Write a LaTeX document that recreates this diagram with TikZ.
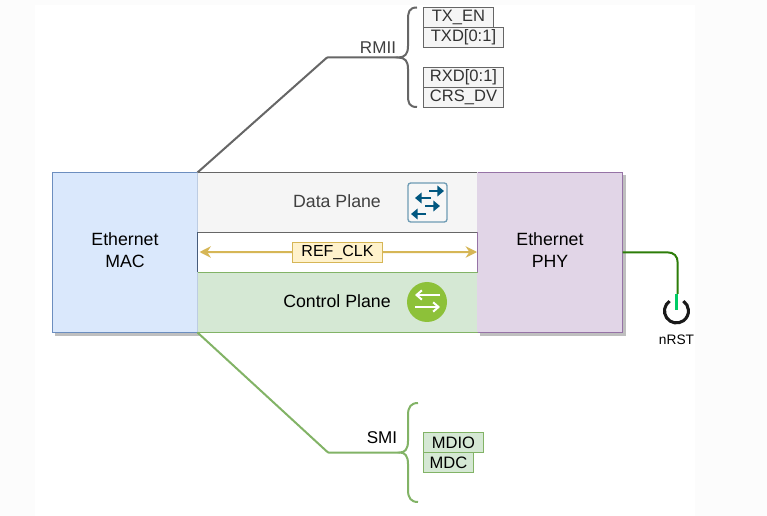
\documentclass[tikz,border=0pt]{standalone}
\usepackage{fontspec}
\setmainfont{Liberation Sans}
\definecolor{macFill}{RGB}{218,232,252}
\definecolor{macLine}{RGB}{108,142,191}
\definecolor{phyFill}{RGB}{225,213,231}
\definecolor{phyLine}{RGB}{150,115,166}
\definecolor{dataFill}{RGB}{245,245,245}
\definecolor{dataLine}{RGB}{102,102,102}
\definecolor{ctrlFill}{RGB}{213,232,212}
\definecolor{ctrlLine}{RGB}{130,179,102}
\definecolor{clkFill}{RGB}{255,242,204}
\definecolor{clkLine}{RGB}{214,182,86}
\definecolor{rstLine}{RGB}{45,125,9}
\definecolor{rstMark}{RGB}{0,204,102}
\definecolor{iconBlue}{RGB}{1,87,128}
\definecolor{iconEdge}{RGB}{110,155,180}
\definecolor{iconGreen}{RGB}{141,193,57}
\definecolor{pageOff}{RGB}{252,252,252}
\usetikzlibrary{arrows.meta,positioning,calc}

\begin{document}
\begin{tikzpicture}[
    x=0.75pt, y=-0.75pt,
    block/.style={rectangle, draw, line width=0.6pt, inner sep=0pt, outer sep=0pt, align=center,
                  font=\fontsize{13.3}{16.5}\selectfont},
    sigbox/.style={rectangle, draw, line width=0.6pt, inner sep=0pt, outer sep=0pt, minimum height=15pt,
                   font=\fontsize{12.4}{15}\selectfont},
    busline/.style={line width=1.5pt, rounded corners=0.5pt},
    brace/.style={line width=1.5pt}
  ]
  \useasboundingbox (0,0) rectangle (767,516);
  \fill[pageOff] (0,0) rectangle (767,516);
  \fill[white] (35,5) rectangle (695,516);

  % shadows of the two end blocks
  \fill[black!25] (54.5,175) rectangle (200,336);
  \fill[black!25] (479.5,175) rectangle (626,336);

  % end blocks
  \node[block, fill=macFill, draw=macLine, minimum width=108.75pt, minimum height=120pt,
        anchor=north west, text depth=0pt] (mac) at (52.5,172.5) {};
  \node[block, fill=phyFill, draw=phyLine, minimum width=108.75pt, minimum height=120pt,
        anchor=north west] (phy) at (477.5,172.5) {};
  \node[font=\fontsize{13.3}{16.5}\selectfont, align=center] (maclabel) at (125,250.5) {Ethernet\\MAC};
  \node[font=\fontsize{13.3}{16.5}\selectfont, align=center] (phylabel) at (550,250.5) {Ethernet\\PHY};

  % planes
  \node[block, fill=dataFill, draw=dataLine, minimum width=210pt, minimum height=45pt,
        anchor=north west] (dataplane) at (197.5,172.5) {};
  \node[block, fill=white, draw=dataLine, minimum width=210pt, minimum height=30pt,
        anchor=north west] (clkplane) at (197.5,232.5) {};
  \node[block, fill=ctrlFill, draw=ctrlLine, minimum width=210pt, minimum height=45pt,
        anchor=north west] (ctrlplane) at (197.5,272.5) {};
  \draw[line width=0.6pt, macLine!45!white] (dataplane.north west) -- (dataplane.south west);
  \draw[line width=0.6pt, macLine!45!white] (ctrlplane.north west) -- (ctrlplane.south west);
  \draw[line width=0.6pt, phyFill] (dataplane.north east) -- (dataplane.south east);
  \draw[line width=0.6pt, phyFill] (ctrlplane.north east) -- (ctrlplane.south east);
  \draw[line width=0.9pt, black!35!macLine] (clkplane.north west) -- (clkplane.south west);
  \draw[line width=0.6pt, phyLine] (clkplane.north east) -- (clkplane.south east);
  \draw[line width=0.6pt, ctrlLine] (clkplane.south west) -- (clkplane.south east);
  \draw[line width=0.6pt, phyLine] (phy.south west) -- (phy.south east);
  \node[font=\fontsize{13.3}{17}\selectfont, text=black!75] (datalabel) at (337,201) {Data Plane};
  \node[font=\fontsize{13.3}{17}\selectfont] (ctrllabel) at (337,301.5) {Control Plane};

  % clock
  \node[sigbox, fill=clkFill, draw=clkLine, minimum width=67.5pt, font=\fontsize{12}{15}\selectfont] (clk) at (337.5,252.3) {REF\_CLK};
  \coordinate (clkL) at (199.5,252);
  \coordinate (clkR) at (477,252);
  \draw[-{Stealth[length=8.5pt,width=8.5pt]}, line width=1.5pt, clkLine] (clk) -- (clkL);
  \draw[-{Stealth[length=8.5pt,width=8.5pt]}, line width=1.5pt, clkLine] (clk) -- (clkR);

  % RMII
  \coordinate (rmiiKnee) at (327,57.5);
  \coordinate (rmiiTip) at (398,57.5);
  \draw[busline, draw=dataLine] (197.5,172.5) -- (rmiiKnee) -- (rmiiTip);
  \draw[brace, draw=dataLine] (417,7.5) .. controls (409,7.5) and (408,12) .. (408,20)
    -- (408,46) .. controls (408,54) and (405,57.5) .. (rmiiTip)
    .. controls (405,57.5) and (408,61) .. (408,69)
    -- (408,95) .. controls (408,103) and (409,107) .. (417,107);
  \node[font=\fontsize{12.8}{15}\selectfont, text=black!75] (rmii) at (378,47.5) {RMII};
  \node[sigbox, fill=dataFill, draw=dataLine, minimum width=52.5pt, anchor=north west, text=black!80] (txen) at (423.5,7.5) {TX\_EN};
  \node[sigbox, fill=dataFill, draw=dataLine, minimum width=60pt, anchor=north west, text=black!80] (txd) at (423.5,27.5) {TXD[0:1]};
  \node[sigbox, fill=dataFill, draw=dataLine, minimum width=60pt, anchor=north west, text=black!80] (rxd) at (423.5,67.5) {RXD[0:1]};
  \node[sigbox, fill=dataFill, draw=dataLine, minimum width=60pt, anchor=north west, text=black!80] (crs) at (423.5,87.5) {CRS\_DV};

  % SMI
  \coordinate (smiKnee) at (328,452.5);
  \coordinate (smiTip) at (400,452.5);
  \draw[busline, draw=ctrlLine] (197.5,332.5) -- (smiKnee) -- (smiTip);
  \draw[brace, draw=ctrlLine] (418,403) .. controls (411,403) and (408,407) .. (408,415)
    -- (408,441) .. controls (408,449) and (405,452.5) .. (smiTip)
    .. controls (405,452.5) and (408,456) .. (408,464)
    -- (408,490) .. controls (408,498) and (411,502) .. (418,502);
  \node[font=\fontsize{12.8}{15}\selectfont] (smi) at (382,438) {SMI};
  \node[sigbox, fill=ctrlFill, draw=ctrlLine, minimum width=45pt, anchor=north west] (mdio) at (423.5,432.5) {MDIO};
  \node[sigbox, fill=ctrlFill, draw=ctrlLine, minimum width=37.5pt, anchor=north west] (mdc) at (423.5,452.5) {MDC};

  % reset
  \coordinate (rstPin) at (676.7,310);
  \coordinate (rstTop) at (676.7,294);
  \node[font=\fontsize{10.3}{12}\selectfont] (nrst) at (676.5,340) {nRST};
  \draw[line width=2.3pt, black!90] (669.6,301.1) arc[start angle=125, end angle=415, radius=9pt];
  \draw[line width=1.5pt, rstLine] (phy.east |- 0,252.3) -- (667,252.3)
    .. controls (674,252.3) and (677.7,256) .. (677.7,263) -- (677.7,294);
  \draw[line width=2.3pt, rstMark] (rstTop) -- (rstPin);

  % switch icon
  \fill[white!97!black, draw=iconEdge, line width=1pt, rounded corners=2pt] (408,183) rectangle (447,222);
  \foreach \ya/\xa/\xb in {191/429/444, 198/431/415, 206/425/440, 214/426/411}{
    \draw[-{Triangle[length=5pt,width=8pt]}, line width=2.1pt, iconBlue] (\xa,\ya) -- (\xb,\ya);
  }
  % control plane icon
  \fill[iconGreen] (427,302) circle[radius=15pt];
  \draw[-{Straight Barb[length=4pt,width=7pt]}, line width=1.5pt, white] (440,295) -- (415,295);
  \draw[-{Straight Barb[length=4pt,width=7pt]}, line width=1.5pt, white] (415,307) -- (440,307);
\end{tikzpicture}
\end{document}
